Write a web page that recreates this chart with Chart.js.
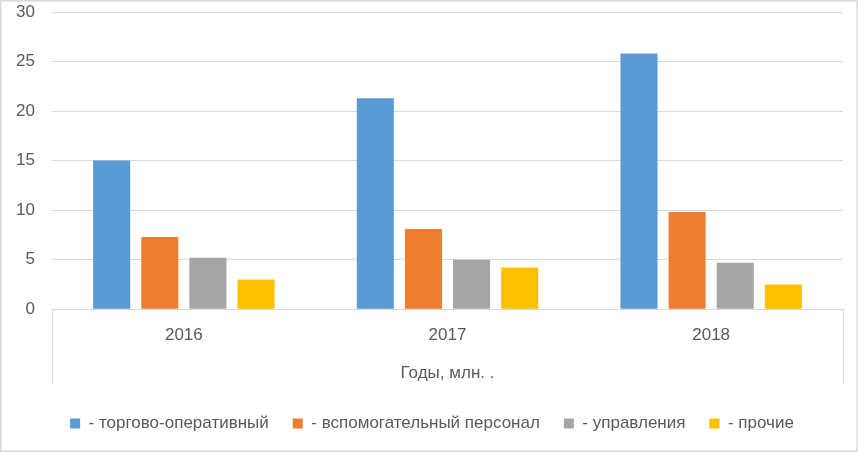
<!DOCTYPE html>
<html>
<head>
<meta charset="utf-8">
<script src="https://cdn.jsdelivr.net/npm/chart.js@4.4.0/dist/chart.umd.min.js"></script>
<style>
  html, body { margin: 0; padding: 0; background: #fff; }
  #wrap { width: 858px; height: 452px; position: relative; }
</style>
</head>
<body>
<div id="wrap"><canvas id="chart"></canvas></div>
<script>
// Data
var years = ["2016", "2017", "2018"];
var seriesNames = ["- торгово-оперативный", "- вспомогательный персонал", "- управления", "- прочие"];
var tradeOps = [15.0, 21.3, 25.8];
var support = [7.3, 8.1, 9.8];
var management = [5.2, 5.0, 4.7];
var other = [3.0, 4.2, 2.5];
var yTicks = [0, 5, 10, 15, 20, 25, 30];
var axisTitle = "Годы, млн. .";

var colors = ["#5B9BD5", "#ED7D31", "#A5A5A5", "#FFC000"];
var textColor = "#595959";
var lineColor = "#D9D9D9";
var fontFamily = "'Liberation Sans', Arial, sans-serif";
var titleGapBelow = 5; // extra room between the axis box and the legend

// frame around the whole chart and the side lines of the category axis box
var framePlugin = {
    id: "frame",
    beforeDraw: function(chart) {
        var ctx = chart.ctx;
        ctx.save();
        ctx.fillStyle = "#fff";
        ctx.fillRect(0, 0, chart.width, chart.height);
        ctx.restore();
    },
    afterDraw: function(chart) {
        var ctx = chart.ctx, area = chart.chartArea, xs = chart.scales.x;
        var boxBottom = xs.bottom - titleGapBelow - 2;
        ctx.save();
        ctx.strokeStyle = lineColor;
        ctx.lineWidth = 1;
        ctx.beginPath();
        ctx.moveTo(Math.round(area.left) + 0.5, area.bottom);
        ctx.lineTo(Math.round(area.left) + 0.5, boxBottom);
        ctx.moveTo(Math.round(area.right) + 0.5, area.bottom);
        ctx.lineTo(Math.round(area.right) + 0.5, boxBottom);
        ctx.stroke();
        ctx.lineWidth = 1.5;
        ctx.strokeRect(0.75, 0.75, chart.width - 1.5, chart.height - 1.5);
        ctx.restore();
    }
};

var datasets = [tradeOps, support, management, other].map(function(vals, i) {
    return {
        label: seriesNames[i],
        data: vals,
        backgroundColor: colors[i],
        borderWidth: 0,
        categoryPercentage: 0.73,
        barPercentage: 0.77
    };
});

new Chart(document.getElementById("chart"), {
    type: "bar",
    data: { labels: years, datasets: datasets },
    options: {
        animation: false,
        responsive: true,
        maintainAspectRatio: false,
        layout: { padding: { left: 6, right: 0, top: 0, bottom: 10 } },
        scales: {
            x: {
                grid: { display: false, drawTicks: false },
                border: { display: true, color: lineColor, width: 1 },
                ticks: { color: textColor, font: { family: fontFamily, size: 17 }, padding: 16 },
                title: {
                    display: true, text: axisTitle, color: textColor,
                    font: { family: fontFamily, size: 17 },
                    padding: { top: 2, bottom: 2 + titleGapBelow }
                },
                afterFit: function(scale) {
                    scale.paddingRight = 15;
                    scale.paddingLeft = 0;
                }
            },
            y: {
                min: 0, max: 30,
                afterBuildTicks: function(scale) {
                    scale.ticks = yTicks.map(function(v) { return { value: v }; });
                },
                afterFit: function(scale) {
                    scale.width = 46;
                    scale.paddingTop = 12;
                    scale.paddingBottom = 0;
                },
                grid: { color: lineColor, drawTicks: false },
                border: { display: false },
                ticks: { color: textColor, font: { family: fontFamily, size: 17 }, padding: 17 }
            }
        },
        plugins: {
            legend: {
                position: "bottom",
                labels: {
                    color: textColor,
                    font: { family: fontFamily, size: 17 },
                    boxWidth: 10, boxHeight: 10,
                    padding: 24
                }
            },
            tooltip: { enabled: false }
        }
    },
    plugins: [framePlugin]
});
</script>
</body>
</html>
